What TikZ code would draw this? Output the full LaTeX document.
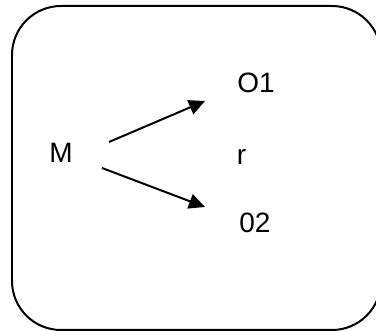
\documentclass[tikz,border=0pt]{standalone}
\usepackage{fontspec}
\setmainfont{Liberation Sans}
\usetikzlibrary{arrows.meta}
\begin{document}
\begin{tikzpicture}[x=1pt,y=-1pt,
  lbl/.style={anchor=base,inner sep=0pt,font=\fontsize{28}{34}\selectfont},
  conn/.style={line width=2pt,-{Triangle[length=16pt,width=15pt]}},
  frame/.style={line width=2pt,rounded corners=49pt}]
\useasboundingbox (0,0) rectangle (376,331);
\begin{scope}
\clip (0,0) rectangle (376,331);
\draw[frame] (12,6) rectangle (381,330);
\end{scope}
\node[lbl] (M) at (61,163) {M};
\node[lbl] (O1) at (256,93) {O1};
\node[lbl] (r) at (241.5,165) {r};
\node[lbl] (O2) at (255,233) {02};
\coordinate (s1) at (109,142);
\coordinate (t1) at (205,101);
\coordinate (s2) at (102,168);
\coordinate (t2) at (205,207);
\draw[conn] (s1) -- (t1);
\draw[conn] (s2) -- (t2);
\end{tikzpicture}
\end{document}
